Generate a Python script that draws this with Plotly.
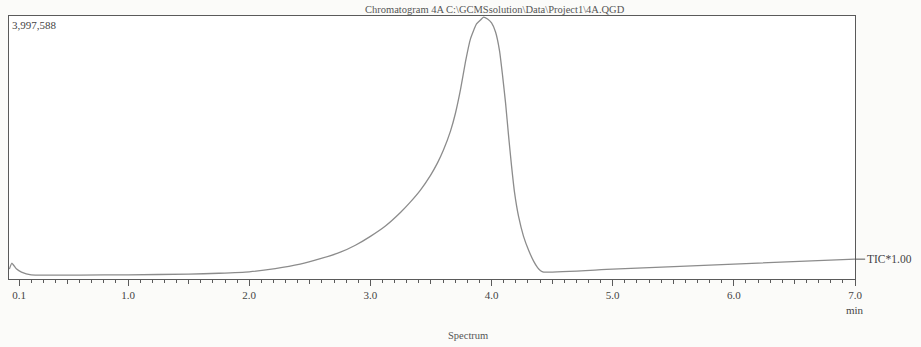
import plotly.graph_objects as go

# TIC trace: retention time (min) and intensity
time_min = [0.02, 0.04, 0.08, 0.12, 0.2, 0.35, 0.6, 1.0, 1.5, 1.75, 2.0, 2.215, 2.42,
            2.587, 2.752, 2.876, 3.0, 3.124, 3.248, 3.331, 3.413, 3.496, 3.554, 3.603,
            3.661, 3.702, 3.744, 3.785, 3.826, 3.876, 3.909, 3.934, 3.967, 4.0, 4.033,
            4.066, 4.091, 4.116, 4.14, 4.165, 4.19, 4.223, 4.264, 4.306, 4.347, 4.38,
            4.405, 4.43, 5.0, 6.0, 7.0]
tic = [150000, 240000, 151000, 106000, 64000, 60000, 60000, 64000, 74000, 88000,
       110000, 159000, 227000, 310000, 409000, 515000, 651000, 809000, 1015000,
       1177000, 1357000, 1582000, 1772000, 1968000, 2256000, 2529000, 2892000,
       3316000, 3664000, 3892000, 3952000, 3997588, 3967000, 3907000, 3770000,
       3483000, 3104000, 2680000, 2196000, 1726000, 1317000, 954000, 651000,
       439000, 273000, 174000, 126000, 106000, 150000, 227000, 303000]

tick_vals = [0.1, 1, 2, 3, 4, 5, 6, 7]
tick_text = ["0.1", "1.0", "2.0", "3.0", "4.0", "5.0", "6.0", "7.0"]
half_ticks = [0.5, 1.5, 2.5, 3.5, 4.5, 5.5, 6.5]

title_text = "Chromatogram 4A C:\\GCMSsolution\\Data\\Project1\\4A.QGD"
y_max = 3997588

serif = "Liberation Serif, Times New Roman, serif"
frame = "#5a5a5a"

fig = go.Figure()
fig.add_trace(go.Scatter(
    x=time_min, y=tic, mode="lines",
    line=dict(color="#8c8c8c", width=1.3, shape="spline", smoothing=0.5),
    hoverinfo="x+y", showlegend=False,
))
# invisible trace on the overlay axis carrying the half-minute ticks
fig.add_trace(go.Scatter(x=[half_ticks[0]], y=[0], xaxis="x2", mode="markers",
                         marker=dict(opacity=0), showlegend=False, hoverinfo="skip"))

fig.update_layout(
    width=921, height=347,
    margin=dict(l=9, r=66, t=16, b=68),
    paper_bgcolor="#fbfbf9", plot_bgcolor="#ffffff",
    font=dict(family=serif, size=11, color="#444"),
    xaxis=dict(
        range=[0.017, 7.0], tickvals=tick_vals, ticktext=tick_text,
        ticks="outside", ticklen=6, tickcolor=frame, tickwidth=1,
        showline=True, linecolor=frame, linewidth=1, mirror=True,
        showgrid=False, zeroline=False,
        tickfont=dict(family=serif, size=11, color="#444"),
        minor=dict(dtick=0.1, tick0=0, ticks="outside", ticklen=3,
                   tickcolor=frame, showgrid=False),
    ),
    xaxis2=dict(
        range=[0.017, 7.0], overlaying="x", side="bottom", anchor="y",
        tickvals=half_ticks, showticklabels=False, ticks="outside",
        ticklen=4, tickcolor=frame, showline=False, showgrid=False, zeroline=False,
    ),
    yaxis=dict(
        range=[0, y_max * 1.004], showticklabels=False, ticks="",
        showline=True, linecolor=frame, linewidth=1, mirror=True,
        showgrid=False, zeroline=False,
    ),
)

fig.add_annotation(text=title_text, xref="paper", yref="paper", x=0.574, y=1,
                   xanchor="center", yanchor="bottom", showarrow=False, yshift=-1,
                   font=dict(family=serif, size=10.5, color="#555"))
fig.add_annotation(text="3,997,588", xref="paper", yref="paper", x=0, y=1,
                   xanchor="left", yanchor="top", showarrow=False, xshift=1, yshift=-1,
                   font=dict(family=serif, size=11, color="#444"))
fig.add_annotation(text="TIC*1.00", xref="paper", yref="y", x=1, y=tic[-1],
                   xanchor="left", yanchor="middle", showarrow=False, xshift=10,
                   font=dict(family=serif, size=11.5, color="#444"))
fig.add_shape(type="line", xref="paper", yref="y", x0=1, x1=1.012,
              y0=tic[-1], y1=tic[-1], line=dict(color="#555", width=1))
fig.add_annotation(text="min", xref="x", yref="paper", x=7.0, y=0,
                   xanchor="center", yanchor="top", showarrow=False, yshift=-23,
                   font=dict(family=serif, size=11, color="#444"))
fig.add_annotation(text="Spectrum", xref="paper", yref="paper", x=0.543, y=0,
                   xanchor="center", yanchor="top", showarrow=False, yshift=-49,
                   font=dict(family=serif, size=10.5, color="#555"))

fig.write_html("out.html")
